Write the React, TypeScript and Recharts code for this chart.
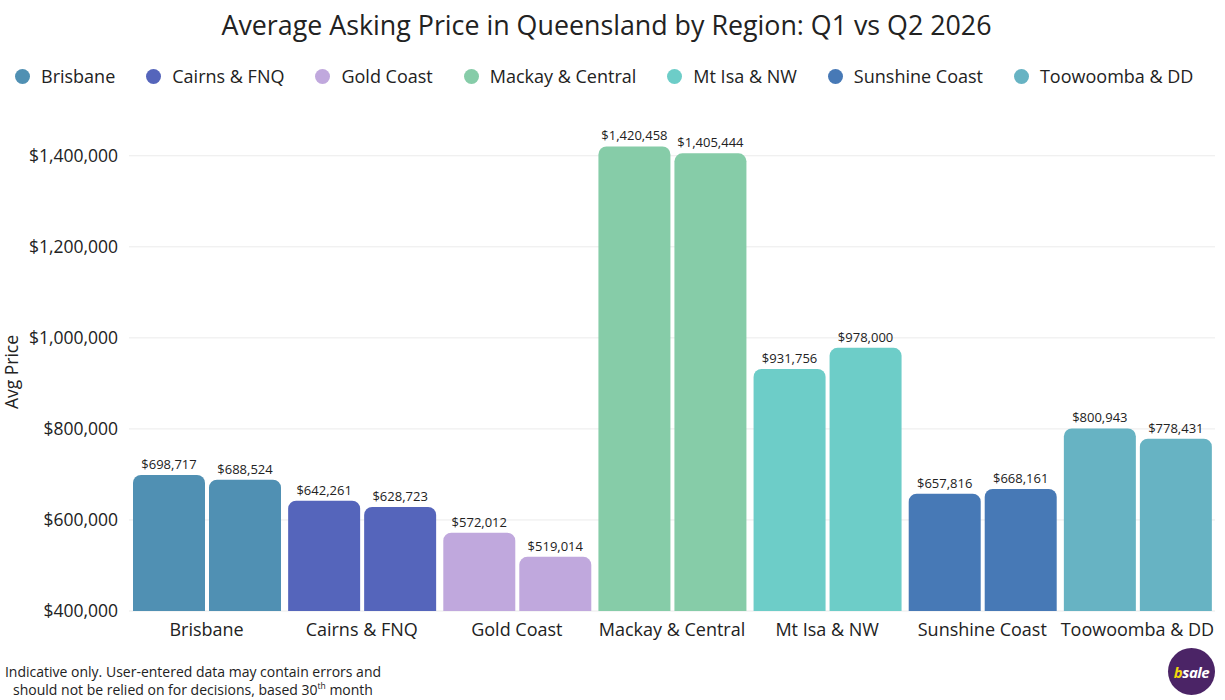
import { Bar, BarChart, CartesianGrid, Cell, LabelList, XAxis, YAxis } from "recharts";

const regions = [
  "Brisbane",
  "Cairns & FNQ",
  "Gold Coast",
  "Mackay & Central",
  "Mt Isa & NW",
  "Sunshine Coast",
  "Toowoomba & DD",
];
const q1Prices = [698717, 642261, 572012, 1420458, 931756, 657816, 800943];
const q2Prices = [688524, 628723, 519014, 1405444, 978000, 668161, 778431];
const regionColors = ["#5090b3", "#5565bb", "#c0a8dd", "#86cca8", "#6dcdc8", "#4779b6", "#67b3c3"];
const yTicks = [400000, 600000, 800000, 1000000, 1200000, 1400000];

const FONT = "'Open Sans', 'Noto Sans', sans-serif";
const money = (v: number) => "$" + Number(v).toLocaleString("en-US");

export default function App() {
  const data = regions.map((r, i) => ({ region: r, q1: q1Prices[i], q2: q2Prices[i] }));
  const labelStyle = { fontSize: 13, fill: "#222", fontFamily: FONT };

  return (
    <div
      style={{
        position: "absolute",
        left: 0,
        top: 0,
        width: 1225,
        height: 700,
        background: "#fff",
        fontFamily: FONT,
        color: "#222",
        overflow: "hidden",
      }}
    >
      <div style={{ position: "absolute", top: 6, left: 0, width: 1213, textAlign: "center", fontSize: 26.8 }}>
        Average Asking Price in Queensland by Region: Q1 vs Q2 2026
      </div>

      {/* legend by region */}
      <div style={{ position: "absolute", top: 64, left: 15, display: "flex", gap: 31, fontSize: 18, alignItems: "center" }}>
        {regions.map((r, i) => (
          <div key={r} style={{ display: "flex", alignItems: "center", gap: 11 }}>
            <span style={{ width: 15, height: 15, borderRadius: "50%", background: regionColors[i], display: "inline-block" }} />
            <span>{r}</span>
          </div>
        ))}
      </div>

      <div style={{ position: "absolute", left: 0, top: 0 }}>
        <BarChart
          width={1225}
          height={700}
          data={data}
          margin={{ top: 133, right: 10, left: 0, bottom: 59 }}
          barSize={72}
          barGap={4}
          barCategoryGap={3}
        >
          <CartesianGrid vertical={false} stroke="#ebebeb" syncWithTicks />
          <XAxis
            dataKey="region"
            height={30}
            tickLine={false}
            axisLine={false}
            tickSize={0}
            tickMargin={12}
            tick={{ fontSize: 18, fill: "#222", fontFamily: FONT }}
            interval={0}
          />
          <YAxis
            width={129}
            domain={[400000, 1450000]}
            ticks={yTicks}
            tickLine={false}
            axisLine={false}
            tickSize={0}
            tickMargin={11}
            tickFormatter={money}
            tick={{ fontSize: 17.5, fill: "#222", fontFamily: FONT }}
            label={{
              value: "Avg Price",
              angle: -90,
              position: "insideLeft",
              offset: 12,
              style: { fontSize: 17.5, fill: "#222", fontFamily: FONT, textAnchor: "middle" },
            }}
          />
          <Bar dataKey="q1" radius={[8, 8, 0, 0]} isAnimationActive={false}>
            {data.map((d, i) => (
              <Cell key={d.region} fill={regionColors[i]} />
            ))}
            <LabelList dataKey="q1" position="top" offset={6} formatter={money} style={labelStyle} />
          </Bar>
          <Bar dataKey="q2" radius={[8, 8, 0, 0]} isAnimationActive={false}>
            {data.map((d, i) => (
              <Cell key={d.region} fill={regionColors[i]} />
            ))}
            <LabelList dataKey="q2" position="top" offset={6} formatter={money} style={labelStyle} />
          </Bar>
        </BarChart>
      </div>

      <div
        style={{
          position: "absolute",
          left: 0,
          top: 663,
          width: 386,
          textAlign: "center",
          fontSize: 14,
          lineHeight: "18px",
          whiteSpace: "nowrap",
        }}
      >
        Indicative only. User-entered data may contain errors and
        <br />
        should not be relied on for decisions, based 30<sup style={{ fontSize: 8.5, lineHeight: 0 }}>th</sup> month
      </div>

      <div
        style={{
          position: "absolute",
          left: 1168,
          top: 648,
          width: 47,
          height: 47,
          borderRadius: "50%",
          background: "#4b2466",
          display: "flex",
          alignItems: "center",
          justifyContent: "center",
          fontWeight: 700,
          fontStyle: "italic",
          fontSize: 15,
          letterSpacing: -0.5,
        }}
      >
        <span style={{ color: "#f2d80c" }}>b</span>
        <span style={{ color: "#fff" }}>sale</span>
      </div>
    </div>
  );
}
